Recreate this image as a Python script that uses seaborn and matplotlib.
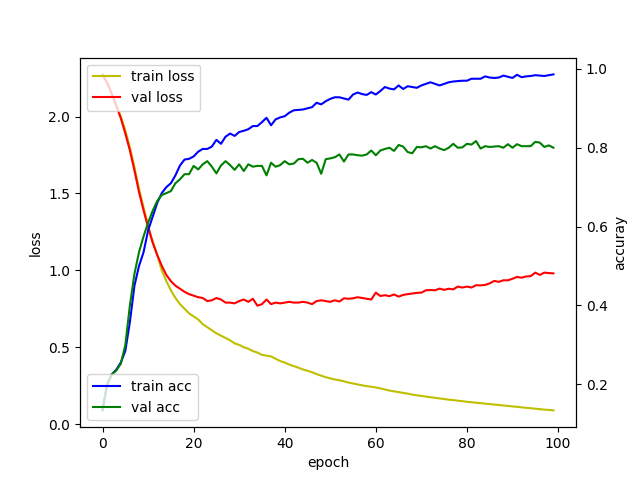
import numpy as np
import pandas as pd
import matplotlib
matplotlib.use("Agg")
import matplotlib.pyplot as plt
import seaborn as sns

# ─────────────────────────────────────────────
# Data
# ─────────────────────────────────────────────
epochs = list(range(100))

train_loss = [
    2.274, 2.22, 2.15, 2.08, 2.00, 1.91, 1.80, 1.67, 1.53, 1.41,
    1.29, 1.19, 1.10, 1.00, 0.93, 0.87, 0.82, 0.78, 0.75, 0.72,
    0.70, 0.68, 0.65, 0.63, 0.61, 0.59, 0.575, 0.56, 0.545, 0.525,
    0.515, 0.50, 0.49, 0.475, 0.465, 0.45, 0.445, 0.44, 0.425, 0.41,
    0.40, 0.387, 0.377, 0.367, 0.355, 0.347, 0.337, 0.325, 0.315, 0.305,
    0.297, 0.29, 0.285, 0.278, 0.27, 0.264, 0.258, 0.252, 0.247, 0.243,
    0.238, 0.232, 0.225, 0.218, 0.213, 0.208, 0.203, 0.198, 0.192, 0.187,
    0.183, 0.179, 0.175, 0.171, 0.167, 0.163, 0.159, 0.156, 0.152, 0.149,
    0.145, 0.142, 0.139, 0.136, 0.133, 0.130, 0.127, 0.124, 0.121, 0.118,
    0.115, 0.112, 0.109, 0.106, 0.103, 0.100, 0.097, 0.094, 0.092, 0.089,
]

val_loss = [
    2.27, 2.22, 2.15, 2.07, 1.99, 1.89, 1.78, 1.65, 1.51, 1.39,
    1.28, 1.18, 1.10, 1.03, 0.97, 0.93, 0.90, 0.88, 0.86, 0.845,
    0.835, 0.825, 0.82, 0.80, 0.805, 0.82, 0.81, 0.79, 0.79, 0.785,
    0.80, 0.81, 0.795, 0.815, 0.77, 0.78, 0.81, 0.78, 0.79, 0.785,
    0.79, 0.795, 0.79, 0.79, 0.795, 0.79, 0.78, 0.80, 0.805, 0.80,
    0.795, 0.805, 0.797, 0.818, 0.815, 0.818, 0.825, 0.82, 0.815, 0.81,
    0.855, 0.833, 0.838, 0.832, 0.843, 0.829, 0.84, 0.845, 0.849, 0.853,
    0.855, 0.87, 0.872, 0.87, 0.881, 0.873, 0.88, 0.876, 0.894, 0.888,
    0.894, 0.888, 0.903, 0.902, 0.905, 0.915, 0.931, 0.925, 0.935, 0.935,
    0.945, 0.957, 0.952, 0.96, 0.962, 0.985, 0.97, 0.985, 0.982, 0.98,
]

train_acc = [
    0.136, 0.20, 0.225, 0.237, 0.255, 0.285, 0.358, 0.45, 0.50, 0.535,
    0.59, 0.625, 0.66, 0.685, 0.70, 0.71, 0.73, 0.755, 0.77, 0.772,
    0.778, 0.79, 0.797, 0.797, 0.803, 0.82, 0.81, 0.828, 0.836, 0.83,
    0.84, 0.843, 0.847, 0.855, 0.855, 0.865, 0.876, 0.857, 0.872, 0.877,
    0.88, 0.889, 0.895, 0.896, 0.897, 0.90, 0.903, 0.914, 0.91, 0.918,
    0.924, 0.928, 0.928, 0.925, 0.922, 0.935, 0.94, 0.936, 0.934, 0.941,
    0.935, 0.944, 0.954, 0.95, 0.948, 0.958, 0.949, 0.956, 0.954, 0.952,
    0.958, 0.962, 0.966, 0.962, 0.958, 0.962, 0.966, 0.968, 0.969, 0.97,
    0.97, 0.975, 0.975, 0.975, 0.981, 0.978, 0.977, 0.978, 0.983, 0.98,
    0.977, 0.985, 0.979, 0.981, 0.982, 0.984, 0.983, 0.982, 0.984, 0.986,
]

val_acc = [
    0.134, 0.20, 0.225, 0.235, 0.252, 0.30, 0.40, 0.48, 0.535, 0.575,
    0.61, 0.64, 0.665, 0.68, 0.685, 0.69, 0.71, 0.72, 0.733, 0.733,
    0.754, 0.745, 0.758, 0.766, 0.752, 0.735, 0.755, 0.766, 0.756, 0.744,
    0.758, 0.741, 0.758, 0.752, 0.754, 0.754, 0.73, 0.762, 0.752, 0.756,
    0.766, 0.758, 0.76, 0.771, 0.772, 0.762, 0.769, 0.762, 0.734, 0.771,
    0.773, 0.776, 0.783, 0.765, 0.783, 0.783, 0.781, 0.78, 0.783, 0.793,
    0.781, 0.793, 0.797, 0.80, 0.792, 0.807, 0.803, 0.789, 0.786, 0.802,
    0.801, 0.804, 0.798, 0.804, 0.798, 0.794, 0.80, 0.81, 0.80, 0.801,
    0.81, 0.808, 0.817, 0.798, 0.804, 0.802, 0.803, 0.804, 0.80, 0.809,
    0.80, 0.809, 0.804, 0.804, 0.804, 0.815, 0.813, 0.802, 0.806, 0.80,
]

# ─────────────────────────────────────────────
# Plot
# ─────────────────────────────────────────────
fig, ax = plt.subplots(figsize=(6.4, 4.8), dpi=100)

sns.lineplot(x=epochs, y=train_loss, color="y", label="train loss", ax=ax)
sns.lineplot(x=epochs, y=val_loss, color="r", label="val loss", ax=ax)
ax.set_xlabel("epoch")
ax.set_ylabel("loss")
ax.legend(loc="upper left")

ax2 = ax.twinx()
sns.lineplot(x=epochs, y=train_acc, color="b", label="train acc", ax=ax2)
sns.lineplot(x=epochs, y=val_acc, color="g", label="val acc", ax=ax2)
ax2.set_ylabel("accuray")
ax2.legend(loc="lower left")

fig.savefig("out.png", dpi=100)
